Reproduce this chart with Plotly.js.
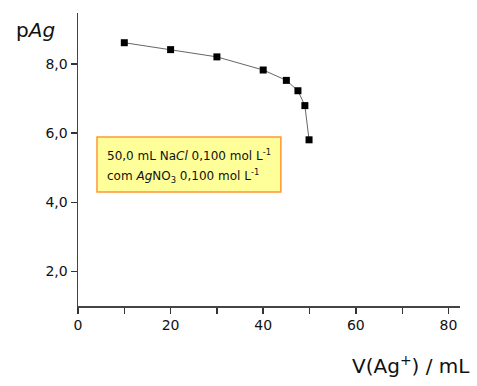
<!DOCTYPE html>
<html><head><meta charset="utf-8">
<script src="https://cdn.plot.ly/plotly-3.0.1.min.js"></script>
<style>html,body{margin:0;padding:0;background:#fff}#c{width:477px;height:386px}</style>
</head><body><div id="c"></div>
<script>
const volume = [10, 20, 30, 40, 45, 47.5, 49, 49.9];
const pAg = [8.62, 8.42, 8.21, 7.83, 7.53, 7.23, 6.80, 5.81];
const xTickVals = [0, 20, 40, 60, 80];
const xTickText = ['0', '20', '40', '60', '80'];
const yTickVals = [2, 4, 6, 8];
const yTickText = ['2,0', '4,0', '6,0', '8,0'];
const boxLines = ['50,0 mL Na<i>Cl</i> 0,100 mol L<sup>-1</sup>',
                  'com <i>Ag</i>NO<sub>3</sub> 0,100 mol L<sup>-1</sup>'];
const F = 'DejaVu Sans, sans-serif';

Plotly.newPlot('c', [{
  x: volume, y: pAg, type: 'scatter', mode: 'lines+markers',
  line: {color: '#666', width: 1},
  marker: {symbol: 'square', size: 7, color: '#000'}
}], {
  width: 477, height: 386,
  margin: {l: 78, r: 17, t: 13, b: 80},
  paper_bgcolor: '#fff', plot_bgcolor: '#fff',
  showlegend: false,
  xaxis: {range: [0, 82.5], tickmode: 'array', tickvals: xTickVals, ticktext: xTickText,
    ticks: 'outside', ticklen: 6, tickwidth: 1.5, tickcolor: '#333',
    minor: {dtick: 10, tick0: 0, ticks: 'outside', ticklen: 6, tickwidth: 1.2, tickcolor: '#333', showgrid: false},
    showline: true, linecolor: '#444', linewidth: 1.5, showgrid: false, zeroline: false,
    tickfont: {family: F, size: 14, color: '#111'}},
  yaxis: {range: [1, 9.48], tickmode: 'array', tickvals: yTickVals, ticktext: yTickText,
    ticks: 'outside', ticklen: 6, tickwidth: 1.5, tickcolor: '#333',
    showline: true, linecolor: '#444', linewidth: 1.5, showgrid: false, zeroline: false,
    tickfont: {family: F, size: 14, color: '#111'}},
  shapes: [
    {type: 'rect', xref: 'paper', yref: 'paper', x0: 0.0497, x1: 0.531, y0: 0.389, y1: 0.577,
     fillcolor: '#ffff99', line: {color: '#ff9933', width: 1.5}, layer: 'above'}
  ],
  annotations: [
    {xref: 'paper', yref: 'paper', x: -0.168, y: 0.942, xanchor: 'left', yanchor: 'middle',
     text: 'p<i>Ag</i>', showarrow: false, font: {family: F, size: 20, color: '#111'}},
    {xref: 'paper', yref: 'paper', x: 1.031, y: -0.201, xanchor: 'right', yanchor: 'middle',
     text: 'V(Ag<sup>+</sup>) / mL', showarrow: false, font: {family: F, size: 20, color: '#111'}},
    {xref: 'paper', yref: 'paper', x: 0.071, y: 0.515, xanchor: 'left', yanchor: 'middle',
     text: boxLines[0], showarrow: false, align: 'left', font: {family: F, size: 12, color: '#111'}},
    {xref: 'paper', yref: 'paper', x: 0.071, y: 0.444, xanchor: 'left', yanchor: 'middle',
     text: boxLines[1], showarrow: false, align: 'left', font: {family: F, size: 12, color: '#111'}}
  ]
}, {displayModeBar: false, staticPlot: true});
</script></body></html>
